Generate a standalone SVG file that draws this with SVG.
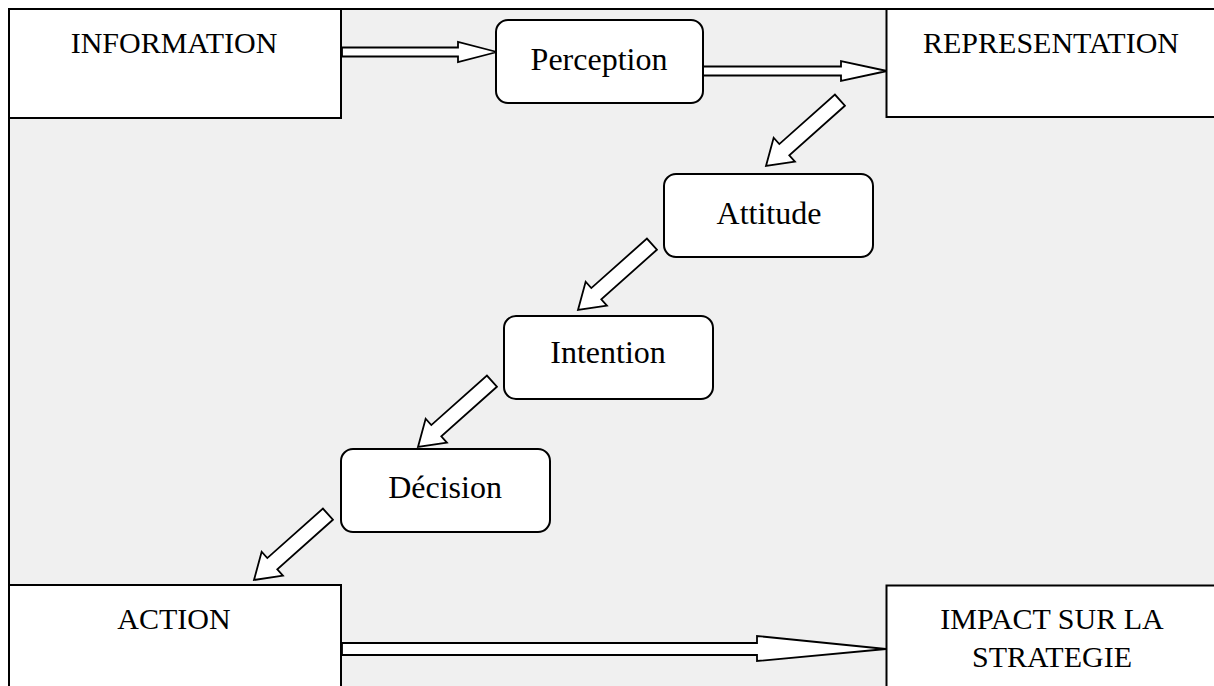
<svg xmlns="http://www.w3.org/2000/svg" width="1214" height="686" viewBox="0 0 1214 686">
  <defs>
    <style>
      .frame { fill: #f0f0f0; stroke: #000; stroke-width: 2; }
      .box { fill: #fff; stroke: #000; stroke-width: 2; }
      .step { fill: #fff; stroke: #000; stroke-width: 2; }
      .arrow { fill: #fff; stroke: #000; stroke-width: 1.8; stroke-linejoin: miter; }
      .caps { font-family: "Liberation Serif", "Times New Roman", serif; font-size: 30px; fill: #000; text-anchor: middle; }
      .lower { font-family: "Liberation Serif", "Times New Roman", serif; font-size: 32px; fill: #000; text-anchor: middle; }
    </style>
    <!-- block arrow pointing along +x, tip at the origin -->
    <polygon id="diag" class="arrow" points="-99,-7.5 -24.5,-7.5 -24.5,-16 0,0 -24.5,16 -24.5,7.5 -99,7.5"/>
  </defs>

  <!-- background panel -->
  <rect class="frame" x="9" y="9" width="1220" height="700"/>

  <!-- connectors -->
  <g id="connectors">
    <polygon class="arrow" points="342,47.5 458,47.5 458,42 497,52 458,62 458,56.5 342,56.5"/>
    <polygon class="arrow" points="703,66.5 841,66.5 841,61 887,71 841,81 841,75.5 703,75.5"/>
    <use href="#diag" transform="translate(766,166) rotate(138.3)"/>
    <use href="#diag" transform="translate(578,310) rotate(138.3)"/>
    <use href="#diag" transform="translate(418,447) rotate(138.3)"/>
    <use href="#diag" transform="translate(254,580) rotate(138.3)"/>
    <polygon class="arrow" points="342,643 757,643 757,636 886,649 757,661 757,655 342,655"/>
  </g>

  <g id="information">
    <rect class="box" x="9" y="9" width="332" height="109"/>
    <text class="caps" x="174" y="52.5">INFORMATION</text>
  </g>

  <g id="perception">
    <rect class="step" x="496" y="20" width="207" height="83" rx="12"/>
    <text class="lower" x="599" y="69.5">Perception</text>
  </g>

  <g id="representation">
    <rect class="box" x="886.5" y="9" width="340" height="108"/>
    <text class="caps" x="1051" y="52.5">REPRESENTATION</text>
  </g>

  <g id="attitude">
    <rect class="step" x="664" y="174" width="209" height="83" rx="12"/>
    <text class="lower" x="769" y="223.5">Attitude</text>
  </g>

  <g id="intention">
    <rect class="step" x="504" y="316" width="209" height="83" rx="12"/>
    <text class="lower" x="608" y="362.5">Intention</text>
  </g>

  <g id="decision">
    <rect class="step" x="341" y="449" width="209" height="83" rx="12"/>
    <text class="lower" x="445" y="497.5">Décision</text>
  </g>

  <g id="action">
    <rect class="box" x="9" y="585" width="332" height="120"/>
    <text class="caps" x="174" y="628.5">ACTION</text>
  </g>

  <g id="impact">
    <rect class="box" x="886.5" y="585.5" width="340" height="120"/>
    <text class="caps" x="1052" y="628.5">IMPACT SUR LA</text>
    <text class="caps" x="1052" y="667">STRATEGIE</text>
  </g>
</svg>
